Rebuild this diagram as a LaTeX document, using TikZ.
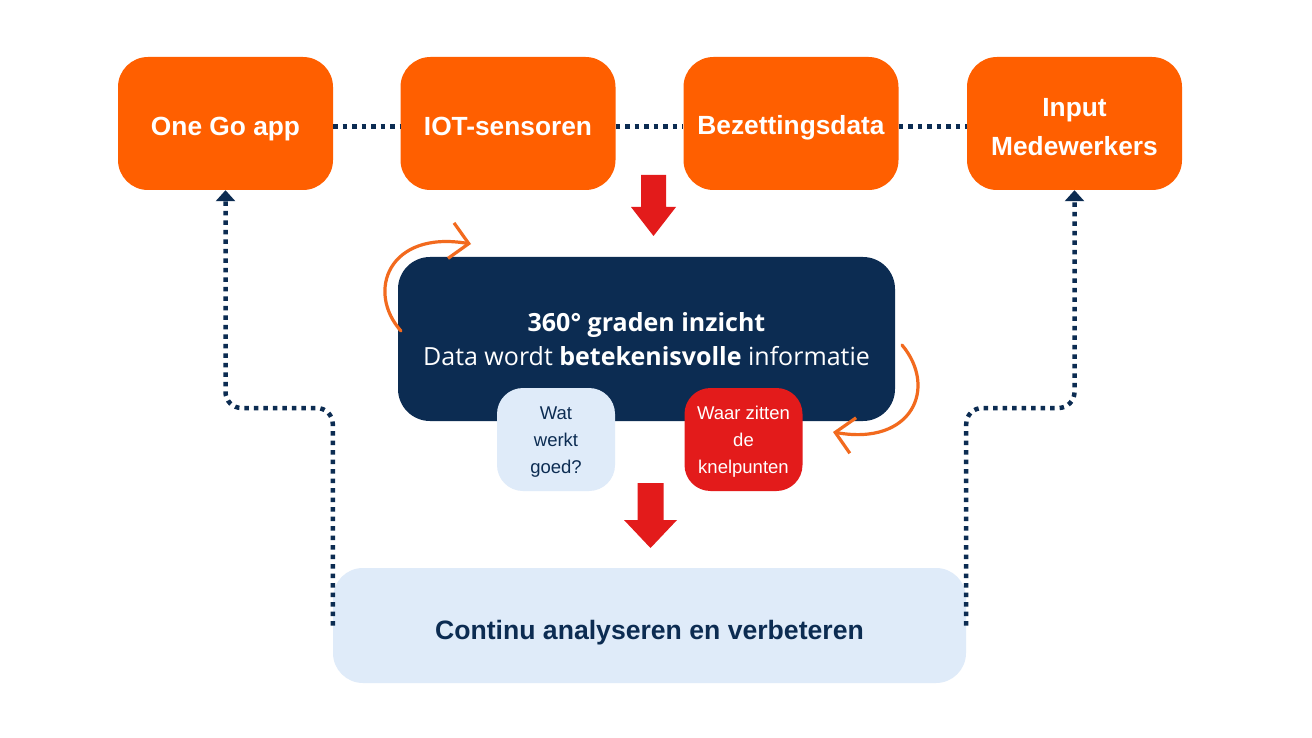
\documentclass[tikz,border=0pt]{standalone}
\usepackage{fontspec}
\setmainfont{Liberation Sans}
\newfontfamily\opensans{Open Sans}
\usetikzlibrary{arrows.meta}
\definecolor{orng}{HTML}{FF5F00}
\definecolor{navy}{HTML}{0C2C52}
\definecolor{lblue}{HTML}{DFEBF9}
\definecolor{rred}{HTML}{E31B1B}
\definecolor{curveor}{HTML}{F26A1E}
\tikzset{
  topbox/.style={fill=orng, rounded corners=30pt, minimum width=215pt, minimum height=133pt, inner sep=0pt},
  toptext/.style={text=white, font=\fontsize{26.3}{39}\selectfont\bfseries, align=center, inner sep=0pt},
  navybox/.style={fill=navy, rounded corners=32pt, minimum width=497pt, minimum height=164pt, inner sep=0pt},
  navytext/.style={text=white, font=\opensans\fontsize{25}{34}\selectfont, align=center, inner sep=0pt},
  smallbox/.style={rounded corners=26pt, minimum width=118pt, minimum height=103pt, inner sep=0pt},
  smalltext/.style={font=\fontsize{18.5}{27}\selectfont, align=center, inner sep=0pt},
  bottombox/.style={fill=lblue, rounded corners=30pt, minimum width=633pt, minimum height=115pt, inner sep=0pt},
  bottomtext/.style={text=navy, font=\fontsize{26.6}{30}\selectfont\bfseries, inner sep=0pt},
  dots/.style={draw=navy, line width=4.5pt, dash pattern=on 4.5pt off 5pt},
  loopdots/.style={dots, rounded corners=16pt, -{Triangle[width=19pt,length=11pt]}},
  curvearrow/.style={draw=curveor, line width=3.2pt, line cap=round,
    -{Straight Barb[length=18pt,width=36pt,line width=3.2pt]}},
}
\begin{document}
\begin{tikzpicture}[x=1pt,y=-1pt]
\useasboundingbox (0,0) rectangle (1312,738);
\fill[white] (0,0) rectangle (1312,738);

% top row
\node[topbox] (onego) at (225.5,123.5) {};
\node[topbox] (iot) at (508,123.5) {};
\node[topbox] (bez) at (791,123.5) {};
\node[topbox] (input) at (1074.5,123.5) {};
\node[toptext] (onegoT) at ([yshift=-5.5pt]onego.center) {One Go app};
\node[toptext] (iotT) at ([yshift=-2.5pt]iot.center) {IOT-sensoren};
\node[toptext] (bezT) at ([yshift=-4.5pt]bez.center) {Bezettingsdata};
\node[toptext] (inputT) at ([yshift=-3.5pt]input.center) {Input\\Medewerkers};

\draw[dots] ([yshift=-3pt]onego.east) -- ([yshift=-3pt]iot.west);
\draw[dots] ([yshift=-3pt]iot.east) -- ([yshift=-3pt]bez.west);
\draw[dots] ([yshift=-3pt]bez.east) -- ([yshift=-3pt]input.west);

% red arrow 1
\fill[rred] (641,175) -- (666,175) -- (666,207) -- (676,207) -- (653.5,236) -- (631,207) -- (641,207) -- cycle;

% navy box
\node[navybox] (navy) at (646.5,339) {};
\node[navytext] (navyT) at (navy.center) {\textbf{360° graden inzicht}\\Data wordt \textbf{betekenisvolle} informatie};

% small boxes
\node[smallbox, fill=lblue] (wat) at (556,439.5) {};
\node[smallbox, fill=rred] (waar) at (743.5,439.5) {};
\node[smalltext, text=navy] (watT) at ([yshift=-3pt]wat.center) {Wat\\werkt\\goed?};
\node[smalltext, text=white] (waarT) at ([yshift=-2pt]waar.center) {Waar zitten\\de\\knelpunten};

% orange curved arrows
\coordinate (c1s) at (401,331);
\coordinate (c1e) at (471,244);
\coordinate (c2s) at (902,345);
\coordinate (c2e) at (833,432);
\draw[curvearrow] (c1s) .. controls (366,292) and (388,230) .. (c1e);
\draw[curvearrow] (c2s) .. controls (938,388) and (912,446) .. (c2e);

% red arrow 2
\fill[rred] (637.5,483) -- (663.5,483) -- (663.5,520) -- (677,520) -- (650.5,548) -- (624,520) -- (637.5,520) -- cycle;

% bottom box
\node[bottombox] (bot) at (649.5,625.5) {};
\node[bottomtext] (botT) at ([yshift=-7pt]bot.center) {Continu analyseren en verbeteren};

% loop connectors
\draw[loopdots] (bot.west) -- ++(0,-217.5) -| (onego.south);
\draw[loopdots] (bot.east) -- ++(0,-217.5) -| (input.south);
\end{tikzpicture}
\end{document}
